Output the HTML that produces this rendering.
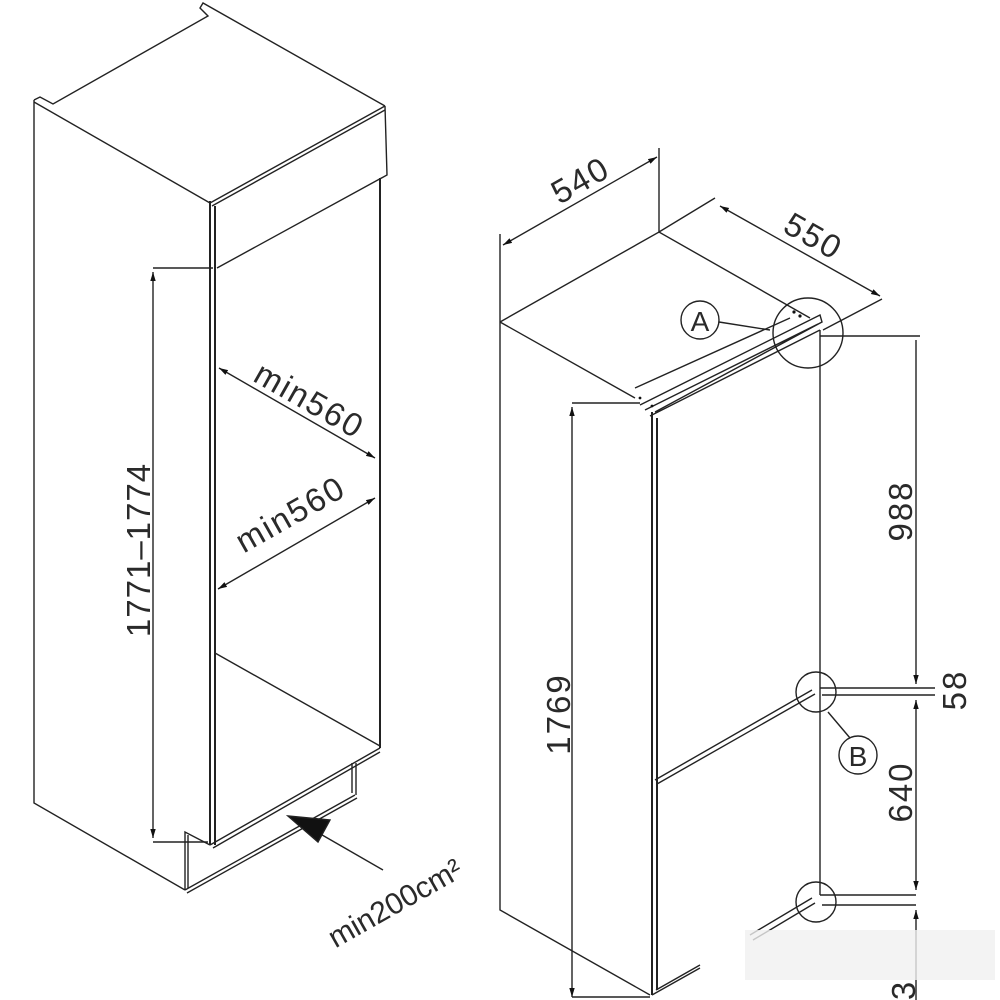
<!DOCTYPE html>
<html><head><meta charset="utf-8"><style>
html,body{margin:0;padding:0;background:#fff;width:1000px;height:1000px;overflow:hidden}
svg{display:block}
text{font-family:"Liberation Sans",sans-serif;fill:#2a2a2a}
</style></head><body>
<svg width="1000" height="1000" viewBox="0 0 1000 1000" xmlns="http://www.w3.org/2000/svg">
<defs>
<marker id="a" viewBox="0 0 10 10" refX="10" refY="5" markerWidth="9" markerHeight="9" orient="auto-start-reverse" markerUnits="userSpaceOnUse"><path d="M0,2 L10,5 L0,8 z" fill="#111"/></marker>
</defs>
<g stroke="#222" stroke-width="1.4" fill="none">
<path d="M34,100 L34,803 L185,890"/>
<path d="M34,100 L40,97 L53,104 L208,16 L200,8 L203,3 L385,106"/>
<path d="M34,102 L210,203"/>
<path d="M210,203 L385,106 M212,206 L385,110"/>
<path d="M385,106 L387,175 L217,268"/>
<path d="M210,201 L210,845 M215,206 L215,845" stroke-width="2"/>
<path d="M380,178 L380,748" stroke-width="2"/>
<path d="M215,653 L380,746"/>
<path d="M210,845 L380,748 M213,848 L380,752"/>
<path d="M185,890 L355,795 M187,893 L357,798"/>
<path d="M185,890 L185,832 L210,845 M188,888 L188,835"/>
<path d="M352,763 L352,793 M356,763 L356,795"/>
<path d="M153,268 L213,268 M153,842 L208,842"/>
<path d="M153,272 L153,838" marker-start="url(#a)" marker-end="url(#a)"/>
<path d="M219,368 L375,458" marker-start="url(#a)" marker-end="url(#a)"/>
<path d="M218,589 L375,498" marker-start="url(#a)" marker-end="url(#a)"/>
<path d="M383,870 L310,828"/>
<path d="M288,816 L330,820 L318,842 z" fill="#111"/>
<path d="M500,234 L500,910 L650,995"/>
<path d="M659,148 L659,232 L715,198"/>
<path d="M503,245 L657,157" marker-start="url(#a)" marker-end="url(#a)"/>
<path d="M720,206 L880,296" marker-start="url(#a)" marker-end="url(#a)"/>
<path d="M882,299 L823,330"/>
<path d="M500,322 L659,232 L810,318"/>
<path d="M500,322 L635,398"/>
<path d="M635,388 L790,318"/>
<path d="M640,405 L820,315 L822,322 L655,412 M645,410 L818,324 M650,416 L820,330"/>
<path d="M652,412 L652,995 M657,418 L657,990" stroke-width="2"/>
<path d="M820,330 L820,895"/>
<path d="M652,995 L700,968 M656,990 L700,965"/>
<circle cx="808" cy="333" r="35"/>
<circle cx="700" cy="320" r="19"/>
<path d="M719,322 L770,330"/>
<circle cx="816" cy="692" r="20"/>
<path d="M820,688 L935,688 M822,695 L935,695"/>
<path d="M655,780 L812,690 M657,784 L815,694"/>
<circle cx="858" cy="755" r="19"/>
<path d="M828,712 L850,738"/>
<circle cx="816" cy="902" r="20"/>
<path d="M820,895 L916,895 M822,905 L916,905"/>
<path d="M750,935 L812,898 M753,940 L815,903"/>
<path d="M820,336 L920,336"/>
<path d="M916,340 L916,684" marker-end="url(#a)"/>
<path d="M916,700 L916,890" marker-start="url(#a)" marker-end="url(#a)"/>
<path d="M916,910 L916,1000" marker-start="url(#a)"/>
<path d="M572,403 L640,403"/>
<path d="M572,407 L572,997" marker-start="url(#a)" marker-end="url(#a)"/>
<path d="M572,997 L650,997"/>
</g>
<g fill="#111">
<circle cx="794" cy="312" r="1.6"/><circle cx="800" cy="316" r="1.6"/>
<circle cx="640" cy="398" r="1.4"/><circle cx="652" cy="406" r="1.4"/>
</g>
<rect x="745" y="930" width="250" height="50" fill="#f0f0f0" opacity="0.8"/>
<g font-size="33" letter-spacing="2">
<text transform="translate(150,550) rotate(-90)" text-anchor="middle" letter-spacing="1">1771–1774</text>
<text transform="translate(304,410) rotate(29.5)" text-anchor="middle">min560</text>
<text transform="translate(296,524) rotate(-29.5)" text-anchor="middle">min560</text>
<text transform="translate(400,912) rotate(-29.5)" text-anchor="middle" font-size="30" letter-spacing="0">min200cm²</text>
<text transform="translate(586,190) rotate(-29.5)" text-anchor="middle">540</text>
<text transform="translate(808,246) rotate(29.5)" text-anchor="middle">550</text>
<text transform="translate(912,511) rotate(-90)" text-anchor="middle">988</text>
<text transform="translate(966,690) rotate(-90)" text-anchor="middle">58</text>
<text transform="translate(912,792) rotate(-90)" text-anchor="middle">640</text>
<text transform="translate(570,714) rotate(-90)" text-anchor="middle">1769</text>
<text transform="translate(915,990) rotate(-90)" text-anchor="middle">3</text>
<text x="700" y="331" text-anchor="middle" font-size="28" letter-spacing="0">A</text>
<text x="858" y="766" text-anchor="middle" font-size="28" letter-spacing="0">B</text>
</g>
</svg>
</body></html>
